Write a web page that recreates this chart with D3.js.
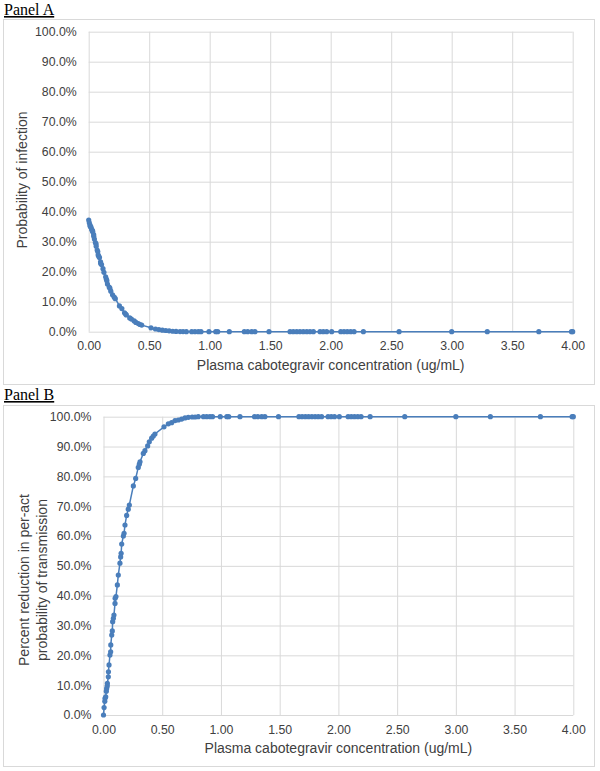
<!DOCTYPE html>
<html><head><meta charset="utf-8">
<script src="https://cdn.jsdelivr.net/npm/d3@7"></script>
<style>body{margin:0;background:#fff}svg{display:block}</style>
</head><body>
<script>
// Plasma cabotegravir concentration (ug/mL)
const concentration = [0.000,0.005,0.011,0.013,0.019,0.024,0.027,0.032,0.033,0.041,0.042,0.047,0.055,0.061,0.062,0.070,0.075,0.078,0.084,0.089,0.098,0.099,0.106,0.118,0.126,0.140,0.146,0.150,0.155,0.169,0.175,0.183,0.197,0.211,0.220,0.254,0.274,0.296,0.305,0.311,0.339,0.353,0.376,0.390,0.410,0.424,0.438,0.515,0.552,0.580,0.609,0.637,0.665,0.694,0.722,0.755,0.780,0.807,0.851,0.878,0.906,0.928,0.994,1.050,1.066,1.162,1.286,1.314,1.347,1.374,1.490,1.664,1.691,1.719,1.746,1.774,1.802,1.829,1.857,1.912,1.939,1.967,2.008,2.083,2.110,2.137,2.165,2.193,2.270,2.565,3.000,3.294,3.720,3.990,4.000];
// Panel A: probability of infection (%)
const probInfection = [37.2,36.3,35.5,35.1,34.9,34.2,33.9,33.6,33.3,32.4,31.8,30.9,29.7,29.3,28.5,27.2,26.7,25.6,25.1,24.7,23.3,22.7,22.4,21.0,19.8,18.3,17.5,17.0,15.9,14.9,14.5,13.5,12.3,11.5,11.0,8.6,7.7,6.3,5.9,5.6,4.6,4.2,3.6,3.1,2.7,2.4,2.2,1.3,0.9,0.7,0.5,0.4,0.3,0.15,0.1,0.05,0.05,0,0,0,0,0,0,0,0,0,0,0,0,0,0,0,0,0,0,0,0,0,0,0,0,0,0,0,0,0,0,0,0,0,0,0,0,0,0];
// Panel B: percent reduction in per-act probability of transmission (%)
const pctReduction = [0,2.5,4.6,5.6,6.1,8.0,8.9,9.7,10.6,12.8,14.5,16.8,20.1,21.2,23.5,26.8,28.2,31.3,32.4,33.5,37.4,39.1,39.7,43.6,46.9,50.9,53.0,54.2,57.3,60.0,60.9,63.7,66.9,69.0,70.4,76.8,79.3,83.0,84.1,84.9,87.7,88.6,90.2,91.6,92.8,93.5,94.2,96.6,97.6,98.0,98.7,98.9,99.2,99.6,99.8,99.9,99.9,100,100,100,100,100,100,100,100,100,100,100,100,100,100,100,100,100,100,100,100,100,100,100,100,100,100,100,100,100,100,100,100,100,100,100,100,100,100];
const xTicks = [0,0.5,1,1.5,2,2.5,3,3.5,4];
const yTicks = [0,10,20,30,40,50,60,70,80,90,100];
const panelLabels = ["Panel A","Panel B"];
const xTitle = "Plasma cabotegravir concentration (ug/mL)";
const yTitlesA = ["Probability of infection"];
const yTitlesB = ["Percent reduction in per-act","probability of transmission"];

const W = 600, H = 771;
const svg = d3.select("body").append("svg").attr("width", W).attr("height", H);
const blue = "#4a7ebb", grid = "#d9d9d9", txt = "#404040";

function panel(cfg, values){
  const g = svg.append("g");
  g.append("text").attr("x", cfg.labelX).attr("y", cfg.labelY)
    .attr("font-family","'Liberation Serif','Times New Roman',serif").attr("font-size",16)
    .attr("fill","#000").attr("text-decoration","underline").text(cfg.label);
  g.append("rect").attr("x", cfg.box[0]+0.5).attr("y", cfg.box[1]+0.5)
    .attr("width", cfg.box[2]-cfg.box[0]).attr("height", cfg.box[3]-cfg.box[1])
    .attr("fill","none").attr("stroke", grid).attr("stroke-width",1);
  const x = d3.scaleLinear().domain([0,4]).range([cfg.x0, cfg.x1]);
  const y = d3.scaleLinear().domain([0,100]).range([cfg.y0, cfg.y1]);
  g.append("g").attr("transform",`translate(0,${cfg.y0})`)
    .call(d3.axisBottom(x).tickValues(xTicks).tickSize(-(cfg.y0-cfg.y1)).tickFormat(d=>d.toFixed(2)).tickPadding(10))
    .call(a=>{a.select(".domain").remove();
      a.selectAll("line").attr("stroke",grid);
      a.selectAll("text").attr("font-family","'Liberation Sans',Arial,sans-serif").attr("font-size",12.3).attr("fill",txt);});
  g.append("g").attr("transform",`translate(${cfg.x0},0)`)
    .call(d3.axisLeft(y).tickValues(yTicks).tickSize(-(cfg.x1-cfg.x0)).tickFormat(d=>d.toFixed(1)+"%").tickPadding(12))
    .call(a=>{a.select(".domain").remove();
      a.selectAll("line").attr("stroke",grid);
      a.selectAll("text").attr("font-family","'Liberation Sans',Arial,sans-serif").attr("font-size",12.3).attr("fill",txt);});
  g.append("text").attr("x",(cfg.x0+cfg.x1)/2).attr("y",cfg.xTitleY).attr("text-anchor","middle")
    .attr("font-family","'Liberation Sans',Arial,sans-serif").attr("font-size",14).attr("fill",txt).text(xTitle);
  const yt = g.append("text").attr("transform",`translate(${cfg.yTitleX},${cfg.yTitleY}) rotate(-90)`)
    .attr("text-anchor","middle").attr("font-family","'Liberation Sans',Arial,sans-serif")
    .attr("font-size",14).attr("fill",txt);
  cfg.yTitles.forEach((t,i)=>yt.append("tspan").attr("x",0).attr("dy", i===0?0:17.5).text(t));
  const data = concentration.map((c,i)=>({c, v: values[i]}));
  g.append("path").datum(data).attr("fill","none").attr("stroke",blue).attr("stroke-width",1.5)
    .attr("d", d3.line().x(d=>x(d.c)).y(d=>y(d.v)));
  g.selectAll("circle").data(data).join("circle").attr("cx",d=>x(d.c)).attr("cy",d=>y(d.v))
    .attr("r",2.6).attr("fill",blue);
}

panel({label:panelLabels[0], labelX:4, labelY:15, box:[3,19,594,384],
  x0:88.7, x1:572.7, y0:331.7, y1:31.7, xTitleY:370, yTitleX:27, yTitleY:180, yTitles:yTitlesA}, probInfection);
panel({label:panelLabels[1], labelX:4, labelY:400, box:[3,405,594,766],
  x0:103.5, x1:573.3, y0:715, y1:416.7, xTitleY:753, yTitleX:29, yTitleY:580, yTitles:yTitlesB}, pctReduction);
</script>
</body></html>
